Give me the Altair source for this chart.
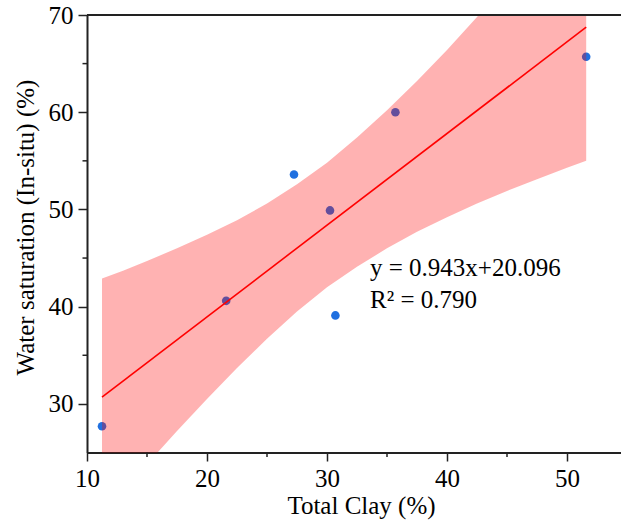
import altair as alt
import pandas as pd

# Data points
clay = [11.25, 21.6, 27.25, 30.25, 30.7, 35.7, 51.6]
sw = [27.7, 40.6, 53.6, 49.9, 39.1, 60.0, 65.7]

# Fitted line end points
fit_x = [11.25, 51.6]
fit_y = [30.7, 68.75]

# Confidence band
band_x = [11.25, 13, 15, 17.5, 20, 22.5, 25, 27.5, 30, 32.5, 35, 37.5, 40, 42.5, 45, 47.5, 50, 51.6]
band_lo = [18.5, 21.0, 23.8, 27.2, 30.5, 33.7, 36.7, 39.5, 42.0, 44.1, 46.0, 47.7, 49.2, 50.6, 51.9, 53.1, 54.3, 55.0]
band_hi = [42.9, 43.7, 44.7, 46.0, 47.4, 48.9, 50.6, 52.6, 54.8, 57.4, 60.2, 63.2, 66.4, 69.8, 73.2, 76.7, 80.2, 82.5]

x_ticks = [10, 20, 30, 40, 50]
x_minor = [15, 25, 35, 45]
y_ticks = [30, 40, 50, 60, 70]
y_minor = [35, 45, 55, 65]

eq_lines = ["y = 0.943x+20.096", "R\u00b2 = 0.790"]

W = 534
H = 437.5
FONT = "Liberation Serif"
AX = "#222222"

pts = pd.DataFrame({"x": clay, "y": sw})
fit = pd.DataFrame({"x": fit_x, "y": fit_y})
band = pd.DataFrame({"bx": band_x, "lo": band_lo, "hi": band_hi})

xs = alt.Scale(domain=[10, 54.5], nice=False, zero=False)
ys = alt.Scale(domain=[25, 70], nice=False, zero=False)

xaxis = alt.Axis(values=x_ticks, title="Total Clay (%)", grid=False, tickSize=8.5,
                 tickWidth=1.5, tickColor=AX, domainColor=AX, domainWidth=2, labelFlush=False,
                 labelFont=FONT, labelFontSize=25, labelColor="black", labelPadding=5,
                 titleFont=FONT, titleFontSize=25, titleFontWeight="normal", titleColor="black",
                 titleX=274, titleY=61, titleBaseline="alphabetic", titleAlign="center")
yaxis = alt.Axis(values=y_ticks, title="Water saturation (In-situ) (%)", grid=False, tickSize=9,
                 tickWidth=1.5, tickColor=AX, domainColor=AX, domainWidth=2, labelFlush=False,
                 labelFont=FONT, labelFontSize=25, labelColor="black", labelPadding=5,
                 titleFont=FONT, titleFontSize=25, titleFontWeight="normal", titleColor="black",
                 titleX=-62, titleY=212, titleAngle=270, titleBaseline="middle", titleAlign="center")

points = alt.Chart(pts).mark_circle(size=74, opacity=1, color="#2070e0").encode(
    x=alt.X("x:Q", scale=xs, axis=xaxis),
    y=alt.Y("y:Q", scale=ys, axis=yaxis),
)

area = alt.Chart(band).mark_area(clip=True, color="#ff0000", fillOpacity=0.3).encode(
    x=alt.X("bx:Q", scale=xs),
    y=alt.Y("lo:Q", scale=ys),
    y2=alt.Y2("hi:Q"),
)

line = alt.Chart(fit).mark_line(clip=True, color="#ff0000", strokeWidth=1.6).encode(
    x=alt.X("x:Q", scale=xs),
    y=alt.Y("y:Q", scale=ys),
)

top_border = alt.Chart(pd.DataFrame({"a": [0]})).mark_rule(color=AX, strokeWidth=2).encode(
    x=alt.value(0), x2=alt.value(W + 5), y=alt.value(0)
)

xminor = alt.Chart(pd.DataFrame({"x": x_minor})).mark_rule(color=AX, strokeWidth=1.5).encode(
    x=alt.X("x:Q", scale=xs), y=alt.value(H), y2=alt.value(H + 4.5)
)
yminor = alt.Chart(pd.DataFrame({"y": y_minor})).mark_rule(color=AX, strokeWidth=1.5).encode(
    y=alt.Y("y:Q", scale=ys), x=alt.value(0), x2=alt.value(-4.5)
)

eq = pd.DataFrame({"t": eq_lines, "k": [0, 1]})
text1 = alt.Chart(eq.iloc[[0]]).mark_text(font=FONT, fontSize=25, align="left",
                                          baseline="alphabetic", color="black").encode(
    x=alt.value(283), y=alt.value(261), text="t:N")
text2 = alt.Chart(eq.iloc[[1]]).mark_text(font=FONT, fontSize=25, align="left",
                                          baseline="alphabetic", color="black").encode(
    x=alt.value(283), y=alt.value(293), text="t:N")

chart = alt.layer(points, area, line, top_border, xminor, yminor, text1, text2).properties(
    width=W, height=H,
    autosize=alt.AutoSizeParams(type="none"),
    padding={"left": 87, "top": 15, "right": 0, "bottom": 71.5},
    background="white",
).configure_view(stroke=None)

chart.save("out.html", embed_options={"renderer": "svg", "actions": False})
